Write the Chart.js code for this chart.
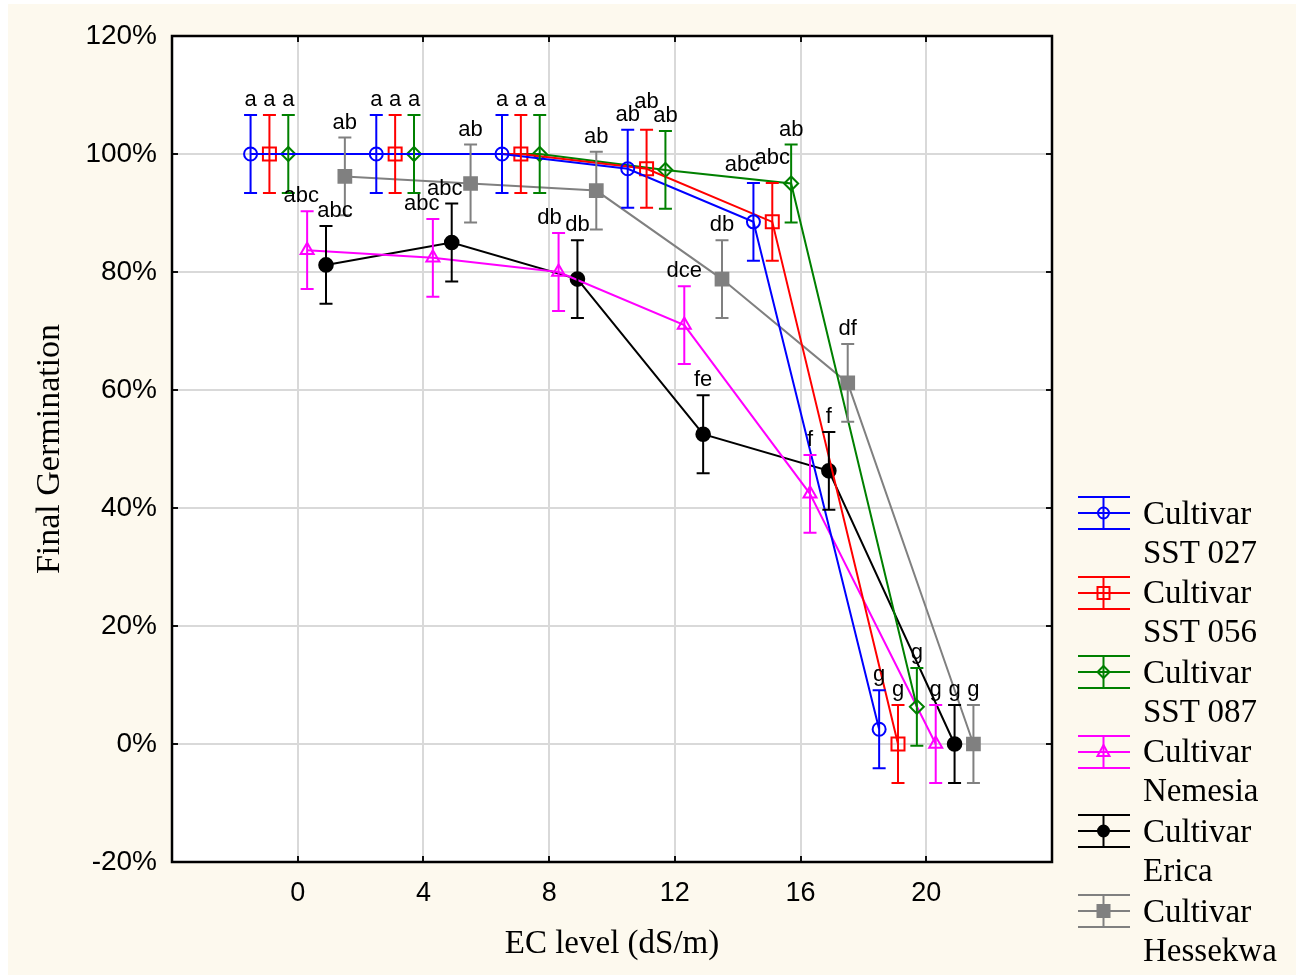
<!DOCTYPE html>
<html><head><meta charset="utf-8">
<script src="https://cdn.jsdelivr.net/npm/chart.js@4/dist/chart.umd.min.js"></script>
<style>
html,body{margin:0;padding:0;background:#fff;}
#bg{position:absolute;left:8px;top:4px;width:1288px;height:971px;background:#fdf9ee;}
#wrap{position:absolute;left:0;top:0;width:1302px;height:975px;}
#c{position:absolute;left:0;top:0;}
.lg-sym{position:absolute;}
.lg-text{position:absolute;left:1143px;font-family:"Liberation Serif","Times New Roman",serif;font-size:33px;line-height:39px;color:#000;white-space:nowrap;}
</style></head><body>
<div id="bg"></div>
<div id="wrap"><canvas id="c" width="1302" height="975"></canvas><div id="legend"></div></div>
<script>
// ---- data ----
const ecLevels = [0, 4, 8, 12, 16, 20];
const cultivarNames = ['SST 027', 'SST 056', 'SST 087', 'Nemesia', 'Erica', 'Hessekwa'];

const sst027   = [100, 100, 100, 97.5, 88.5, 2.5];
const sst056   = [100, 100, 100, 97.5, 88.5, 0];
const sst087   = [100, 100, 100, 97.3, 95.0, 6.3];
const nemesia  = [83.7, 82.4, 80.0, 71.0, 42.4, 0];
const erica    = [81.2, 85.0, 78.8, 52.5, 46.3, 0];
const hessekwa = [96.2, 95.0, 93.8, 78.8, 61.2, 0];

const sst027Err   = [6.6, 6.6, 6.6, 6.6, 6.6, 6.6];
const sst056Err   = [6.6, 6.6, 6.6, 6.6, 6.6, 6.6];
const sst087Err   = [6.6, 6.6, 6.6, 6.6, 6.6, 6.6];
const nemesiaErr  = [6.6, 6.6, 6.6, 6.6, 6.6, 6.6];
const ericaErr    = [6.6, 6.6, 6.6, 6.6, 6.6, 6.6];
const hessekwaErr = [6.6, 6.6, 6.6, 6.6, 6.6, 6.6];

const sst027Letters   = ['a', 'a', 'a', 'ab', 'abc', 'g'];
const sst056Letters   = ['a', 'a', 'a', 'ab', 'abc', 'g'];
const sst087Letters   = ['a', 'a', 'a', 'ab', 'ab', 'g'];
const nemesiaLetters  = ['abc', 'abc', 'db', 'dce', 'f', 'g'];
const ericaLetters    = ['abc', 'abc', 'db', 'fe', 'f', 'g'];
const hessekwaLetters = ['ab', 'ab', 'ab', 'db', 'df', 'g'];

const yTicks = [-20, 0, 20, 40, 60, 80, 100, 120];
const xTicks = [0, 4, 8, 12, 16, 20];

// ---- styling ----
const dodge = [-1.5, -0.9, -0.3, 0.3, 0.9, 1.5];
const series = [
  {values: sst027,   err: sst027Err,   letters: sst027Letters,   color: '#0000ff', style: 'circle',   r: 6.5, filled: false},
  {values: sst056,   err: sst056Err,   letters: sst056Letters,   color: '#ff0000', style: 'rect',     r: 9.2, filled: false},
  {values: sst087,   err: sst087Err,   letters: sst087Letters,   color: '#008000', style: 'rectRot',  r: 7,   filled: false},
  {values: nemesia,  err: nemesiaErr,  letters: nemesiaLetters,  color: '#ff00ff', style: 'triangle', r: 7.5, filled: false},
  {values: erica,    err: ericaErr,    letters: ericaLetters,    color: '#000000', style: 'circle',   r: 6.8, filled: true},
  {values: hessekwa, err: hessekwaErr, letters: hessekwaLetters, color: '#808080', style: 'rect',     r: 9,   filled: true}
];
// label nudges to avoid overlap: key "series-group" -> [dx, dy]
const labelNudge = {'3-0': [-6, 0], '3-1': [-11, 0], '3-2': [-9, 0], '4-0': [9, 0], '4-1': [-7, 0],
                    '1-3': [0, -13], '1-4': [0, -10], '0-4': [-11, -3]};

const datasets = series.map((s, si) => ({
  label: 'Cultivar ' + cultivarNames[si],
  data: s.values.map((v, i) => ({x: ecLevels[i] + dodge[si], y: v})),
  showLine: true,
  borderColor: s.color,
  backgroundColor: s.filled ? s.color : 'rgba(0,0,0,0)',
  borderWidth: 2,
  pointStyle: s.style,
  pointRadius: s.r,
  pointBorderWidth: 2,
  pointBorderColor: s.color,
  pointBackgroundColor: s.filled ? s.color : 'rgba(0,0,0,0)',
  pointHoverRadius: s.r,
  tension: 0
}));

const decorPlugin = {
  id: 'decor',
  beforeDraw(chart) {
    const {ctx, chartArea: a} = chart;
    ctx.save();
    ctx.fillStyle = '#ffffff';
    ctx.fillRect(a.left, a.top, a.right - a.left, a.bottom - a.top);
    ctx.restore();
  },
  afterDatasetsDraw(chart) {
    const {ctx} = chart;
    const xs = chart.scales.x, ys = chart.scales.y;
    ctx.save();
    // error bars
    series.forEach((s, si) => {
      ctx.strokeStyle = s.color;
      ctx.lineWidth = 2;
      s.values.forEach((v, i) => {
        const px = xs.getPixelForValue(ecLevels[i] + dodge[si]);
        const top = ys.getPixelForValue(v + s.err[i]);
        const bot = ys.getPixelForValue(v - s.err[i]);
        ctx.beginPath();
        ctx.moveTo(px, top); ctx.lineTo(px, bot);
        ctx.moveTo(px - 6.5, top); ctx.lineTo(px + 6.5, top);
        ctx.moveTo(px - 6.5, bot); ctx.lineTo(px + 6.5, bot);
        ctx.stroke();
      });
    });
    // letters
    ctx.fillStyle = '#000';
    ctx.font = '22px "Liberation Sans", Arial, sans-serif';
    ctx.textAlign = 'center';
    ctx.textBaseline = 'middle';
    series.forEach((s, si) => {
      s.values.forEach((v, i) => {
        const nudge = labelNudge[si + '-' + i] || [0, 0];
        const px = xs.getPixelForValue(ecLevels[i] + dodge[si]);
        const top = ys.getPixelForValue(v + s.err[i]);
        ctx.fillText(s.letters[i], px + nudge[0], top - 15 + nudge[1]);
      });
    });
    ctx.restore();
  },
  afterDraw(chart) {
    const {ctx, chartArea: a} = chart;
    const xs = chart.scales.x, ys = chart.scales.y;
    ctx.save();
    ctx.strokeStyle = '#111';
    ctx.lineWidth = 2;
    ctx.beginPath();
    xTicks.forEach(t => {
      const p = Math.round(xs.getPixelForValue(t));
      ctx.moveTo(p, a.bottom); ctx.lineTo(p, a.bottom - 6);
      ctx.moveTo(p, a.top); ctx.lineTo(p, a.top + 6);
    });
    yTicks.forEach(t => {
      const p = Math.round(ys.getPixelForValue(t));
      ctx.moveTo(a.left, p); ctx.lineTo(a.left + 6, p);
      ctx.moveTo(a.right, p); ctx.lineTo(a.right - 6, p);
    });
    ctx.stroke();
    ctx.strokeStyle = '#000';
    ctx.lineWidth = 2.5;
    ctx.strokeRect(a.left, a.top, a.right - a.left, a.bottom - a.top);
    ctx.restore();
  }
};

new Chart(document.getElementById('c'), {
  type: 'scatter',
  data: {datasets},
  options: {
    responsive: false,
    devicePixelRatio: 1,
    animation: false,
    layout: {padding: {left: 0, top: 36, right: 250, bottom: 0}},
    plugins: {legend: {display: false}, tooltip: {enabled: false}},
    scales: {
      x: {
        type: 'linear', min: -4, max: 24,
        afterBuildTicks: sc => { sc.ticks = xTicks.map(v => ({value: v})); },
        afterFit: sc => { sc.height = 113; },
        grid: {color: '#d9d9d9', lineWidth: 2, drawTicks: false},
        border: {display: false},
        ticks: {color: '#000', padding: 15, font: {family: '"Liberation Sans", Arial, sans-serif', size: 27}},
        title: {display: true, text: 'EC level (dS/m)', color: '#000',
                font: {family: '"Liberation Serif", "Times New Roman", serif', size: 33},
                padding: {top: 0, bottom: 11}}
      },
      y: {
        type: 'linear', min: -20, max: 120,
        afterBuildTicks: sc => { sc.ticks = yTicks.map(v => ({value: v})); },
        afterFit: sc => { sc.width = 172; },
        grid: {color: '#d9d9d9', lineWidth: 2, drawTicks: false},
        border: {display: false},
        ticks: {color: '#000', padding: 15, callback: v => v + '%',
                font: {family: '"Liberation Sans", Arial, sans-serif', size: 28}},
        title: {display: true, text: 'Final Germination', color: '#000',
                font: {family: '"Liberation Serif", "Times New Roman", serif', size: 34},
                padding: {top: 30, bottom: 0}}
      }
    }
  },
  plugins: [decorPlugin]
});

// ---- HTML legend ----
(function () {
  const lg = document.getElementById('legend');
  const svgNS = 'http://www.w3.org/2000/svg';
  series.forEach((s, si) => {
    const cy = 513 + si * 79.6;
    const svg = document.createElementNS(svgNS, 'svg');
    svg.setAttribute('width', 56); svg.setAttribute('height', 36);
    svg.setAttribute('class', 'lg-sym');
    svg.style.left = '1076px'; svg.style.top = (cy - 18) + 'px';
    const mk = (tag, attrs) => { const e = document.createElementNS(svgNS, tag); for (const k in attrs) e.setAttribute(k, attrs[k]); svg.appendChild(e); return e; };
    const st = {stroke: s.color, 'stroke-width': 2, fill: 'none'};
    [2, 18, 34].forEach(y => mk('line', Object.assign({x1: 2, x2: 54, y1: y, y2: y}, st)));
    mk('line', Object.assign({x1: 27.5, x2: 27.5, y1: 2, y2: 34}, st));
    const fill = s.filled ? s.color : 'none';
    const ms = {stroke: s.color, 'stroke-width': 2, fill};
    if (s.style === 'circle') mk('circle', Object.assign({cx: 27.5, cy: 18, r: 5.5}, ms));
    else if (s.style === 'rect') mk('rect', Object.assign({x: 21.5, y: 12, width: 12, height: 12}, ms));
    else if (s.style === 'rectRot') mk('polygon', Object.assign({points: '27.5,12 33.5,18 27.5,24 21.5,18'}, ms));
    else if (s.style === 'triangle') mk('polygon', Object.assign({points: '27.5,11 33.5,22 21.5,22'}, ms));
    lg.appendChild(svg);
    const t = document.createElement('div');
    t.className = 'lg-text';
    t.style.top = (cy - 19.5) + 'px';
    t.innerHTML = 'Cultivar<br>' + cultivarNames[si];
    lg.appendChild(t);
  });
})();
</script>
</body></html>
